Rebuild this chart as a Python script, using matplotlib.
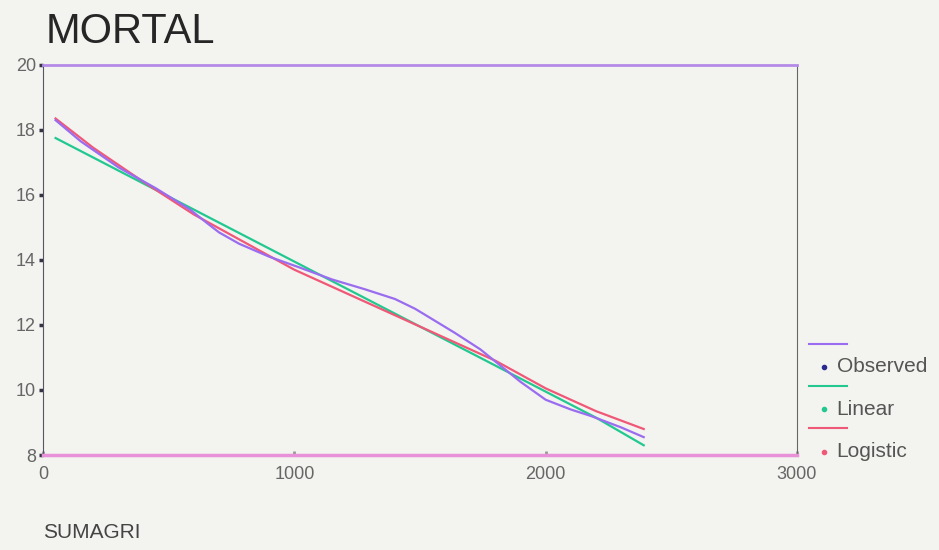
import matplotlib
matplotlib.use("Agg")
import matplotlib.pyplot as plt
from matplotlib.lines import Line2D

plt.rcParams["font.family"] = ["Liberation Sans", "DejaVu Sans"]

# values
obs_x = [50, 150, 300, 450, 585, 650, 700, 780, 900, 1020, 1150, 1280, 1400, 1480, 1540,
         1640, 1740, 1820, 1900, 2000, 2100, 2180, 2300, 2390]
observed = [18.3, 17.65, 16.85, 16.2, 15.55, 15.15, 14.85, 14.5, 14.1, 13.77, 13.4, 13.1, 12.8, 12.5, 12.22,
            11.75, 11.25, 10.75, 10.25, 9.7, 9.4, 9.2, 8.85, 8.55]
fit_x = [50, 200, 400, 600, 800, 1000, 1200, 1400, 1600, 1800, 2000, 2200, 2390]
linear = [17.75, 17.15, 16.35, 15.55, 14.75, 13.95, 13.15, 12.35, 11.55, 10.75, 9.95, 9.15, 8.3]
logistic = [18.35, 17.45, 16.4, 15.4, 14.55, 13.7, 13.0, 12.3, 11.6, 10.9, 10.05, 9.35, 8.8]

x_ticks = [0, 1000, 2000, 3000]
y_ticks = [8, 10, 12, 14, 16, 18, 20]
labels = ["Observed", "Linear", "Logistic"]

BG = "#f3f3ef"
C_OBS_LINE, C_OBS_DOT = "#9a6cf0", "#2a2a90"
C_LIN = "#22c890"
C_LOG = "#f05878"

fig = plt.figure(figsize=(9.39, 5.5), dpi=100, facecolor=BG)
ax = fig.add_axes([0.0458, 0.1727, 0.803, 0.7093], facecolor=BG)

ax.plot(fit_x, linear, color=C_LIN, lw=1.6)
ax.plot(fit_x, logistic, color=C_LOG, lw=1.6)
ax.plot(obs_x, observed, color=C_OBS_LINE, lw=1.6)

ax.set_xlim(0, 3000)
ax.set_ylim(8, 20)
ax.set_xticks(x_ticks)
ax.set_yticks(y_ticks)
ax.tick_params(axis="y", direction="out", length=3, width=2.5, colors="#333344",
               labelcolor="#666666", labelsize=13, pad=2)
ax.tick_params(axis="x", direction="in", length=3, width=2, colors="#999999",
               labelcolor="#666666", labelsize=13, pad=8)
ax.spines["top"].set_color("#b58ae8")
ax.spines["top"].set_linewidth(2)
ax.spines["bottom"].set_color("#e890d8")
ax.spines["bottom"].set_linewidth(2.5)
ax.spines["left"].set_color("#555566")
ax.spines["right"].set_color("#666666")

fig.text(0.049, 0.922, "MORTAL", fontsize=30, color="#262626", va="baseline")
fig.text(0.046, 0.022, "SUMAGRI", fontsize=15, color="#444444", va="baseline")

# legend drawn by hand: short line above, dot + label below
leg = [(C_OBS_LINE, C_OBS_DOT), (C_LIN, C_LIN), (C_LOG, C_LOG)]
y0 = 0.375
for i, (lab, (lc, dc)) in enumerate(zip(labels, leg)):
    yl = y0 - i * 0.077
    fig.add_artist(Line2D([0.862, 0.902], [yl, yl], color=lc, lw=1.5))
    fig.add_artist(Line2D([0.877], [yl - 0.042], marker="o", ms=3, color=dc, lw=0))
    fig.text(0.891, yl - 0.042, lab, fontsize=15, color="#555555", va="center")

fig.savefig("out.png", dpi=100, facecolor=BG)
